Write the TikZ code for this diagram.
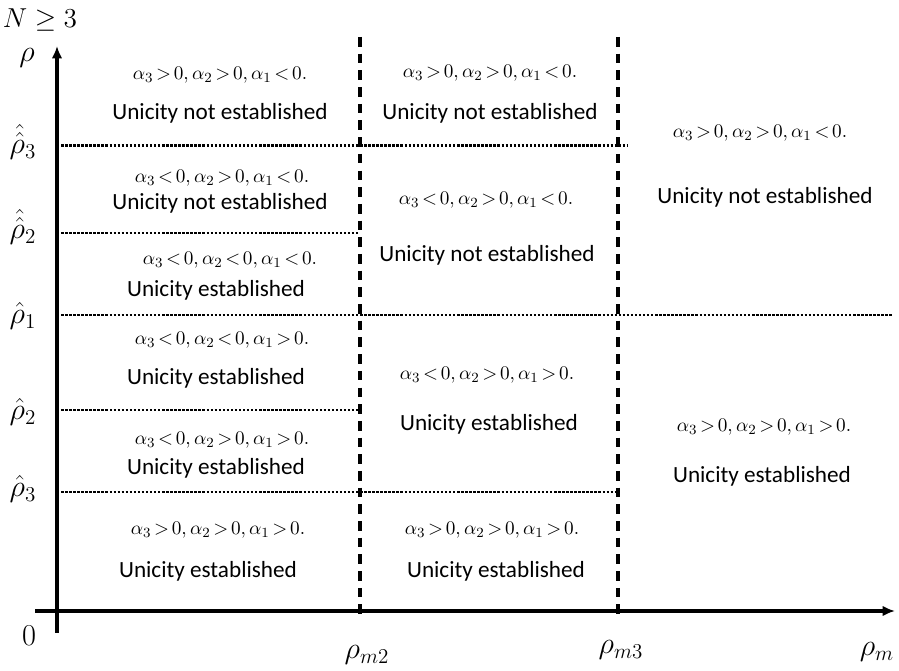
\documentclass[tikz,border=0pt]{standalone}
\usepackage{amsmath,amssymb,graphicx}
\usepackage[no-math]{fontspec}
\setmainfont{Carlito}
\usetikzlibrary{arrows.meta}

\begin{document}
\begin{tikzpicture}[x=0.02cm,y=-0.02cm,
  axisline/.style={line width=2.2pt,-{Latex[length=7pt,width=6pt]}},
  dashline/.style={line width=2pt,dash pattern=on 5.5pt off 4pt},
  dotline/.style={line width=1.7pt,dash pattern=on 1.4pt off 0.9pt},
  cond/.style={font=\fontsize{10.95}{13}\selectfont},
  verdict/.style={font=\fontsize{13.2}{15}\selectfont},
  lab/.style={font=\fontsize{17.28}{20}\selectfont},
  toplab/.style={font=\fontsize{12}{14}\selectfont}]
 \useasboundingbox (0,0) rectangle (899,671);
 % axes
 \coordinate (ytop) at (57,46);
 \coordinate (ybot) at (57,633);
 \coordinate (xleft) at (35,611);
 \coordinate (xright) at (895,611);
 \draw[axisline] (ybot) -- (ytop);
 \draw[axisline] (xleft) -- (xright);
 % vertical borders rho_m2, rho_m3
 \foreach \x/\n in {360/m2,618/m3}
   {\coordinate (\n t) at (\x,37);
    \coordinate (\n b) at (\x,617);
    \draw[dashline] (\n t) -- (\n b);}
 % horizontal borders
 \foreach \y/\xe/\n in {146/627/a,233/360/b,315/893/c,410/360/d,492/620/e}
   {\coordinate (\n l) at (57,\y);
    \coordinate (\n r) at (\xe,\y);
    \draw[dotline] (\n l) -- (\n r);}
 % axis labels
 \node[toplab] (nlab) at (40,20) {\scalebox{1.3}{$N \geq 3$}};
 \node[lab] (rho) at (27,58) {$\rho$};
 \node[lab] (zero) at (29,636) {$0$};
 \node[lab] (hh3) at (23,142) {$\hat{\hat{\rho}}_3$};
 \node[lab] (hh2) at (23,227) {$\hat{\hat{\rho}}_2$};
 \node[lab] (h1) at (23,316) {$\hat{\rho}_1$};
 \node[lab] (h2) at (23,412) {$\hat{\rho}_2$};
 \node[lab] (h3) at (23,489) {$\hat{\rho}_3$};
 \node[lab] (rm2) at (367,655) {$\rho_{m2}$};
 \node[lab] (rm3) at (621,650) {$\rho_{m3}$};
 \node[lab] (rm) at (877,652) {$\rho_{m}$};
 % regions
 \foreach \n/\cx/\cy/\sa/\sb/\sc/\vx/\vy/\v in {
   tl/220/75/>/>/</220/113/{Unicity not established},
   tm/490/73/>/>/</490/113/{Unicity not established},
   tr/760/133/>/>/</765/197/{Unicity not established},
   la/222/178/</>/</220/203/{Unicity not established},
   lb/230/260/</</</216/290/{Unicity established},
   ma/486/200/</>/</487/255/{Unicity not established},
   lc/222/340/</</>/216/378/{Unicity established},
   ld/222/440/</>/>/216/468/{Unicity established},
   mb/487/375/</>/>/489/424/{Unicity established},
   le/218/530/>/>/>/208/571/{Unicity established},
   mc/492/530/>/>/>/496/571/{Unicity established},
   br/764/427/>/>/>/762/476/{Unicity established}}
   {\node[cond] (c\n) at (\cx,\cy)
      {$\thickmuskip=2.5mu\relax \alpha_3 \sa 0,\alpha_2 \sb 0,\alpha_1 \sc 0.$};
    \node[verdict] (v\n) at (\vx,\vy) {\v};}
\end{tikzpicture}
\end{document}
